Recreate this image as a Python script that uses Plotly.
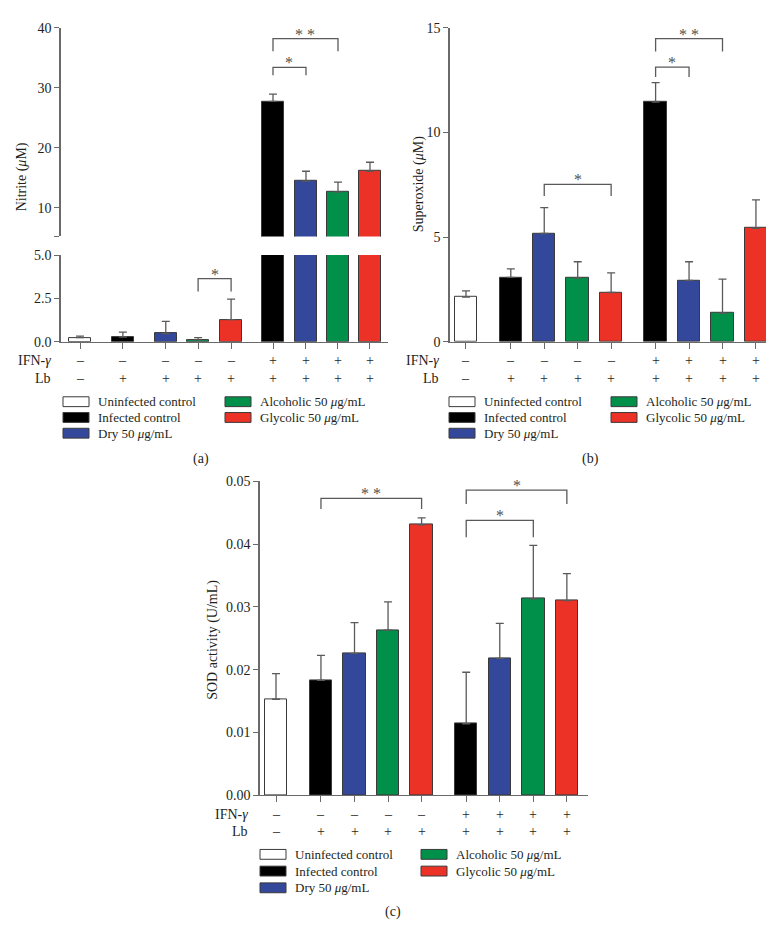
import plotly.graph_objects as go

W, H = 774, 938

# ---------------- data ----------------
group_names = ["Uninfected control", "Infected control", "Dry 50 <i>μ</i>g/mL",
               "Alcoholic 50 <i>μ</i>g/mL", "Glycolic 50 <i>μ</i>g/mL"]
group_colors = ["#FFFFFF", "#000000", "#33479B", "#00904A", "#EC3226"]
bar_group = [0, 1, 2, 3, 4, 1, 2, 3, 4]
ifn_row = ["–", "–", "–", "–", "–", "+", "+", "+", "+"]
lb_row = ["–", "+", "+", "+", "+", "+", "+", "+", "+"]

pos_a = [0, 1.3, 2.6, 3.58, 4.58, 5.85, 6.85, 7.82, 8.79]
pos_bc = [0, 1.34, 2.34, 3.34, 4.34, 5.67, 6.67, 7.67, 8.67]

nitrite = [0.23, 0.27, 0.47, 0.11, 1.27, 27.75, 14.45, 12.64, 16.1]
nitrite_err = [0.09, 0.28, 0.70, 0.12, 1.19, 1.2, 1.65, 1.65, 1.5]
superoxide = [2.13, 3.07, 5.17, 3.04, 2.35, 11.45, 2.93, 1.36, 5.42]
superoxide_err = [0.30, 0.41, 1.24, 0.78, 0.94, 0.93, 0.89, 1.63, 1.36]
sod = [0.0153, 0.0183, 0.0226, 0.0263, 0.0431, 0.0114, 0.0218, 0.0313, 0.0310]
sod_err = [0.0041, 0.0040, 0.0049, 0.0045, 0.0011, 0.0082, 0.0056, 0.0085, 0.0043]

# significance brackets: (bar i, bar j, label, top value, drop value)
sig_a_upper = [(5, 7, "* *", 38.2, 36.1), (5, 6, "*", 33.4, 32.1)]
sig_a_lower = [(3, 4, "*", 3.64, 2.9)]
sig_b = [(2, 4, "*", 7.52, 6.96), (5, 6, "*", 13.12, 12.65), (5, 7, "* *", 14.48, 13.87)]
sig_c = [(1, 4, "* *", 0.0473, 0.0456), (5, 8, "*", 0.0486, 0.0464), (5, 7, "*", 0.0438, 0.0411)]

# ---------------- style ----------------
FONT = "Liberation Serif"
TXT = "#231F20"
AX = "#6A6A6A"
ERR = "#5A5A5A"
OUT = "#3A3A3A"
TICK_SIZE = 14
LEG_SIZE = 13
ROW_SIZE = 14
TITLE_SIZE = 14

def px(x):
    return x / W

def py(y):
    return 1 - y / H

colors = [group_colors[g] for g in bar_group]

fig = go.Figure()

def add_bars(pos, vals, errs, xa, ya):
    fig.add_trace(go.Bar(
        x=pos, y=vals, width=0.67, xaxis=xa, yaxis=ya,
        marker=dict(color=colors, line=dict(color=OUT, width=1)),
        error_y=dict(type="data", array=errs, arrayminus=[0] * len(errs),
                     symmetric=False, color=ERR, thickness=1.3, width=4),
        showlegend=False, hoverinfo="skip"))

add_bars(pos_a, nitrite, nitrite_err, "x", "y")
add_bars(pos_a, nitrite, nitrite_err, "x2", "y2")
add_bars(pos_bc, superoxide, superoxide_err, "x3", "y3")
add_bars(pos_bc, sod, sod_err, "x4", "y4")

tickfont = dict(family=FONT, size=TICK_SIZE, color=TXT)

def xax(dom, rng, pos, visible=True):
    return dict(domain=[px(dom[0]), px(dom[1])], range=rng, showgrid=False, zeroline=False,
                showline=visible, linecolor=AX, linewidth=1.3,
                tickvals=pos if visible else [], ticks="outside" if visible else "",
                ticklen=6, tickcolor=AX, tickwidth=1.3, showticklabels=False,
                fixedrange=True)

def yax(dom, rng, anchor, **kw):
    d = dict(domain=[py(dom[1]), py(dom[0])], range=rng, anchor=anchor, showgrid=False,
             zeroline=False, showline=True, linecolor=AX, linewidth=1.5, ticks="outside",
             ticklen=5, tickcolor=AX, tickwidth=1.3, tickfont=tickfont, fixedrange=True)
    d.update(kw)
    return d

layout = dict(
    width=W, height=H, margin=dict(l=0, r=0, t=0, b=0),
    plot_bgcolor="white", paper_bgcolor="white", bargap=0,
    font=dict(family=FONT, size=12, color=TXT),
    xaxis=xax((53, 380), [-0.576, 9.336], pos_a),
    yaxis=yax((244, 332), [0, 5], "x", tickvals=[0, 2.5, 5], tickformat=".1f"),
    xaxis2=dict(xax((53, 380), [-0.576, 9.336], pos_a, visible=False), anchor="y2", matches="x"),
    yaxis2=yax((13, 225), [5.25, 40], "x2", tickvals=[5.25, 10, 20, 30, 40],
               ticktext=["", "10", "20", "30", "40"]),
    xaxis3=dict(xax((442, 765), [-0.478, 9.18], pos_bc), anchor="y3"),
    yaxis3=yax((13, 332), [0, 15], "x3", tickvals=[0, 5, 10, 15]),
    xaxis4=dict(xax((252, 580), [-0.477, 9.30], pos_bc), anchor="y4"),
    yaxis4=yax((474, 793), [0, 0.05], "x4", tickvals=[0, 0.01, 0.02, 0.03, 0.04, 0.05],
               tickformat=".2f"),
)
fig.update_layout(**layout)

shapes = []
annotations = []

def brackets(sigs, pos, xa, ya):
    for i, j, lab, top, drop in sigs:
        x0, x1 = pos[i], pos[j]
        shapes.append(dict(type="path", xref=xa, yref=ya,
                           path=f"M {x0},{drop} L {x0},{top} L {x1},{top} L {x1},{drop}",
                           line=dict(color=ERR, width=1.3)))
        annotations.append(dict(x=(x0 + x1) / 2, y=top, xref=xa, yref=ya, text=lab,
                                showarrow=False, yanchor="bottom", yshift=-6,
                                font=dict(family=FONT, size=16, color="#505050")))

brackets(sig_a_upper, pos_a, "x2", "y2")
brackets(sig_a_lower, pos_a, "x", "y")
brackets(sig_b, pos_bc, "x3", "y3")
brackets(sig_c, pos_bc, "x4", "y4")

rowfont = dict(family=FONT, size=ROW_SIZE, color=TXT)

def row_labels(pos, xa, label_right, y_ifn, y_lb):
    annotations.append(dict(x=px(label_right), y=py(y_ifn), xref="paper", yref="paper",
                            text="IFN-<i>γ</i>", showarrow=False, xanchor="right",
                            yanchor="middle", font=rowfont))
    annotations.append(dict(x=px(label_right), y=py(y_lb), xref="paper", yref="paper",
                            text="Lb", showarrow=False, xanchor="right",
                            yanchor="middle", font=rowfont))
    for k, p in enumerate(pos):
        annotations.append(dict(x=p, y=py(y_ifn), xref=xa, yref="paper", text=ifn_row[k],
                                showarrow=False, yanchor="middle", font=rowfont))
        annotations.append(dict(x=p, y=py(y_lb), xref=xa, yref="paper", text=lb_row[k],
                                showarrow=False, yanchor="middle", font=rowfont))

row_labels(pos_a, "x", 45, 351, 369)
row_labels(pos_bc, "x3", 433, 351, 369)
row_labels(pos_bc, "x4", 242, 812, 830)

def legend(col1_x, col2_x, rows_y):
    cols = [(col1_x, [0, 1, 2]), (col2_x, [3, 4])]
    for cx, gs in cols:
        for r, g in enumerate(gs):
            yc = rows_y[r]
            shapes.append(dict(type="rect", xref="paper", yref="paper",
                               x0=px(cx), x1=px(cx + 26), y0=py(yc + 5), y1=py(yc - 5),
                               fillcolor=group_colors[g], line=dict(color=OUT, width=1)))
            annotations.append(dict(x=px(cx + 33), y=py(yc), xref="paper", yref="paper",
                                    text=group_names[g], showarrow=False, xanchor="left",
                                    yanchor="middle",
                                    font=dict(family=FONT, size=LEG_SIZE, color=TXT)))

legend(55, 217, [393, 409, 425])
legend(441, 603, [393, 409, 425])
legend(252, 413, [853, 870, 887])

def label(x, y, text, angle=0, size=TITLE_SIZE):
    annotations.append(dict(x=px(x), y=py(y), xref="paper", yref="paper", text=text,
                            showarrow=False, textangle=angle, xanchor="center",
                            yanchor="middle", font=dict(family=FONT, size=size, color=TXT)))

label(14, 165, "Nitrite (<i>μ</i>M)", -90)
label(411, 172, "Superoxide (<i>μ</i>M)", -90)
label(205, 635, "SOD activity (U/mL)", -90)
label(193, 451, "(a)")
label(582, 451, "(b)")
label(385, 912, "(c)")

fig.update_layout(shapes=shapes, annotations=annotations)
fig.write_html("out.html")
